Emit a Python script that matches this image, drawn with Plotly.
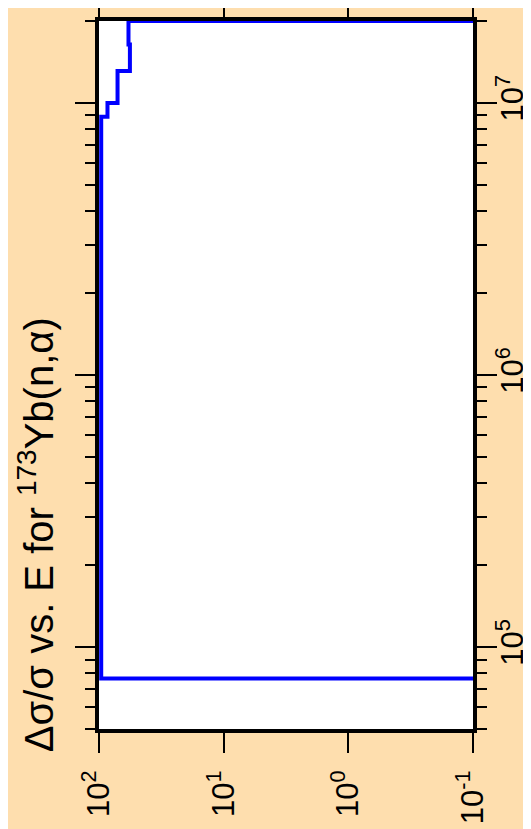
import numpy as np
import plotly.graph_objects as go

# Data: step function of relative uncertainty vs energy
energy_edges = [7.67e4, 8.9e6, 1.0e7, 1.31e7, 1.64e7, 2.0e7]   # eV, bin edges
rel_unc = [96.0, 85.5, 71.0, 56.5, 58.0]                          # delta sigma / sigma per bin
off_axis = 0.01   # value below the axis range (drawn out to the right edge)

unc_tickvals = [100, 10, 1, 0.1]
unc_ticktext = ["10<sup>2</sup>", "10<sup>1</sup>", "10<sup>0</sup>", "10<sup>-1</sup>"]
e_tickvals = [1e5, 1e6, 1e7]
e_ticktext = ["10<sup>5</sup>", "10<sup>6</sup>", "10<sup>7</sup>"]
e_minor = [m * 10.0 ** k for k in range(4, 8) for m in range(2, 10)]

x = [off_axis] + rel_unc + [off_axis]
y = energy_edges + [energy_edges[-1]]

fig = go.Figure()
fig.add_trace(go.Scatter(x=x, y=y, mode="lines", line=dict(color="#0000FF", width=4, shape="hv"),
                         showlegend=False, hoverinfo="skip"))

font = "Liberation Sans, Arial, sans-serif"
fig.update_layout(
    template="none",
    width=531, height=829, autosize=False,
    margin=dict(l=91, r=66, t=13, b=108),
    paper_bgcolor="#FEDEAE", plot_bgcolor="#FFFFFF",
    font=dict(family=font, color="#000000", size=28),
    xaxis=dict(type="log", range=[2, -1], showgrid=False, zeroline=False, automargin=False,
               showline=True, linecolor="#000000", linewidth=4, mirror="allticks",
               ticks="outside", ticklen=20, tickwidth=2, tickcolor="#000000",
               tickmode="array", tickvals=unc_tickvals, ticktext=unc_ticktext,
               tickangle=-90, tickfont=dict(size=31, family=font), layer="below traces",
               ticklabelstandoff=5),
    yaxis=dict(type="log", range=[np.log10(5e4), np.log10(2e7)], side="right",
               showgrid=False, zeroline=False, automargin=False,
               showline=True, linecolor="#000000", linewidth=4, mirror="allticks",
               ticks="outside", ticklen=20, tickwidth=2, tickcolor="#000000",
               tickmode="array", tickvals=e_tickvals, ticktext=e_ticktext,
               tickangle=-90, tickfont=dict(size=31, family=font), layer="below traces",
               ticklabelstandoff=-11,
               minor=dict(tickmode="array", tickvals=e_minor, ticks="outside",
                          ticklen=10, tickwidth=2, tickcolor="#000000", showgrid=False)),
    annotations=[dict(text="Δσ/σ vs. E for <sup>173</sup>Yb(n,α)", textangle=-90,
                      xref="paper", yref="paper", x=-0.168, y=0.274,
                      xanchor="center", yanchor="middle", showarrow=False,
                      font=dict(size=40, family=font, color="#000000"))],
)

fig.write_html("out.html")
